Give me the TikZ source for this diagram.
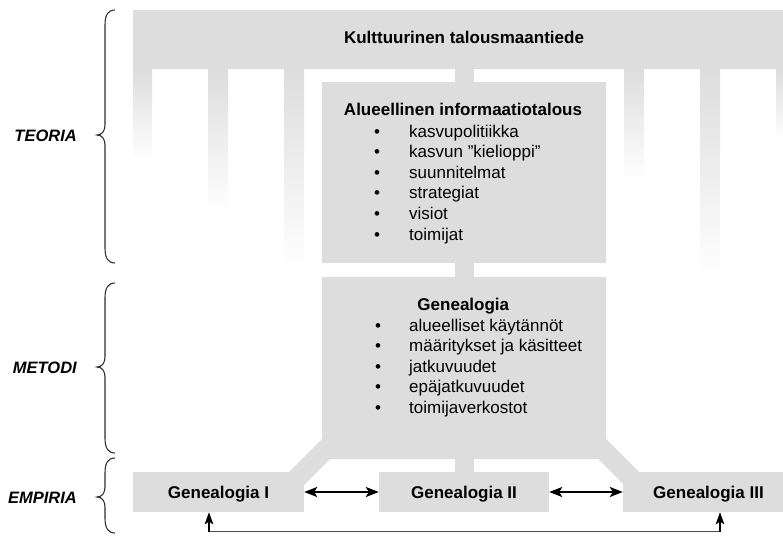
\documentclass[tikz,border=0pt]{standalone}
\usepackage{fontspec}
\setmainfont{Liberation Sans}
\usetikzlibrary{arrows.meta,calc}
\definecolor{boxgray}{RGB}{221,221,221}
\definecolor{bracecol}{RGB}{45,45,45}
\newcommand\bodyfont{\fontsize{17}{20.6}\selectfont}
\newcommand\drawbrace[3]{%
  \draw[bracestyle] (115,#1) .. controls (108,#1) and (105,#1+5) .. (105,#1+15)
    -- (105,#2-10) .. controls (105,#2-4) and (102,#2) .. (97,#2)
    .. controls (102,#2) and (105,#2+4) .. (105,#2+10)
    -- (105,#3-15) .. controls (105,#3-5) and (108,#3) .. (115,#3);}
\begin{document}
\begin{tikzpicture}[x=1pt,y=-1pt,
  graybox/.style={rectangle,fill=boxgray,draw=none,inner sep=0pt},
  colfade/.style={top color=boxgray,bottom color=white,draw=none},
  tnorm/.style={font=\bodyfont,inner sep=0pt,anchor=base west},
  tbold/.style={font=\bodyfont\bfseries,inner sep=0pt,anchor=base},
  tside/.style={font=\fontsize{16.5}{20}\selectfont\bfseries\itshape,inner sep=0pt,anchor=base east},
  bul/.style={font=\bodyfont,inner sep=0pt,anchor=base},
  bracestyle/.style={draw=bracecol,line width=1.1pt},
  dblarrow/.style={{Stealth[length=13pt,width=10pt,inset=3pt]}-{Stealth[length=13pt,width=10pt,inset=3pt]},line width=1.9pt,black},
  uparrow/.style={-{Stealth[length=12pt,width=8.5pt,inset=2.5pt]},line width=1.9pt,black},
  retline/.style={line width=1.4pt,black!70}]
\useasboundingbox (0,0) rectangle (783,535);
\clip (0,0) rectangle (783,535);

% fading columns under the top bar
\foreach \xa/\xb/\yb in {133/152/160, 208/228/213, 284/304/270, 624/644/180, 700/720/277, 776/795/140}
  \shade[colfade] (\xa,69) rectangle (\xb,\yb);

% boxes
\node[graybox,minimum width=662pt,minimum height=59pt] (kult) at (464,39.5) {};
\node[graybox,minimum width=284pt,minimum height=181pt] (alue) at (464,172.5) {};
\node[graybox,minimum width=284pt,minimum height=182pt] (gen) at (464,368) {};
\node[graybox,minimum width=171pt,minimum height=40pt,font=\bodyfont\bfseries,text height=12.2pt,text depth=0pt] (gen1) at (218.5,492) {Genealogia I};
\node[graybox,minimum width=170pt,minimum height=40pt,font=\bodyfont\bfseries,text height=12.2pt,text depth=0pt] (gen2) at (464,492) {Genealogia II};
\node[graybox,minimum width=171pt,minimum height=40pt,font=\bodyfont\bfseries,text height=12.2pt,text depth=0pt] (gen3) at (708.5,492) {Genealogia III};

% gray connectors
\fill[boxgray] ($(kult.south)+(-9.5,0)$) rectangle ($(alue.north)+(9.5,0)$);
\fill[boxgray] ($(alue.south)+(-9.5,0)$) rectangle ($(gen.north)+(9.5,0)$);
\fill[boxgray] ($(gen.south)+(-9.5,0)$) rectangle ($(gen2.north)+(9.5,0)$);
\fill[boxgray] (322,439) -- (322,459) -- (330,459) -- (304,485) -- (304,472) -- (289,472) -- cycle;
\fill[boxgray] (606,439) -- (606,459) -- (598,459) -- (623,484) -- (623,472) -- (639,472) -- cycle;

% texts
\node[tbold] (kulttxt) at (464,43.5) {Kulttuurinen talousmaantiede};
\node[tbold] (aluetxt) at (463,115.5) {Alueellinen informaatiotalous};
\foreach \t [count=\i from 0] in {kasvupolitiikka,kasvun ”kielioppi”,suunnitelmat,strategiat,visiot,toimijat}{
  \node[bul] (aluebul\i) at (377,137+20.6*\i) {\textbullet};
  \node[tnorm] (alueitem\i) at (409,137+20.6*\i) {\t};
}
\node[tbold] (gentxt) at (463.3,310) {Genealogia};
\foreach \t [count=\i from 0] in {alueelliset käytännöt,määritykset ja käsitteet,jatkuvuudet,epäjatkuvuudet,toimijaverkostot}{
  \node[bul] (genbul\i) at (378,331.3+20.5*\i) {\textbullet};
  \node[tnorm] (genitem\i) at (409,331.3+20.5*\i) {\t};
}

% side labels and braces
\node[tside] (teoria) at (77,141) {TEORIA};
\node[tside] (metodi) at (77,373) {METODI};
\node[tside] (empiria) at (77,503) {EMPIRIA};
\drawbrace{10}{135}{263}
\drawbrace{283}{367}{453}
\drawbrace{458}{497}{533}

% arrows
\draw[dblarrow] (gen1.east) -- (gen2.west);
\draw[dblarrow] (gen2.east) -- (gen3.west);
\coordinate (b1) at (209,531.5);
\coordinate (b2) at (720,531.5);
\draw[retline] (b1) -- (b2);
\draw[uparrow] (b1) -- (gen1.south -| b1);
\draw[uparrow] (b2) -- (gen3.south -| b2);
\end{tikzpicture}
\end{document}
